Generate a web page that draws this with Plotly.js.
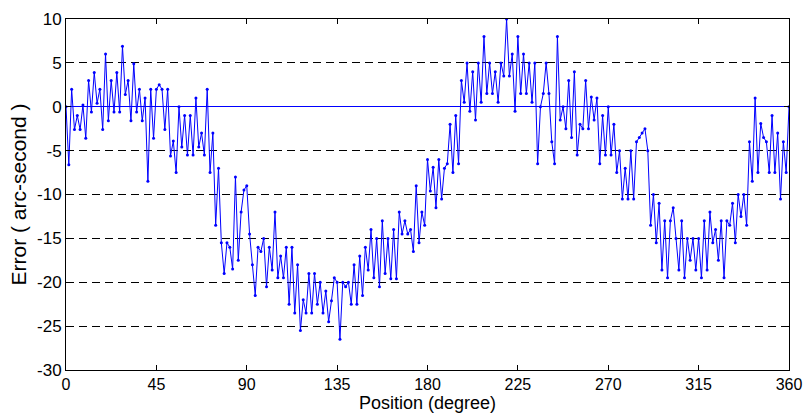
<!DOCTYPE html>
<html>
<head>
<meta charset="utf-8">
<script src="https://cdn.plot.ly/plotly-3.0.1.min.js"></script>
<style>
  html, body { margin: 0; padding: 0; background: #fff; }
  #chart { width: 807px; height: 414px; }
</style>
</head>
<body>
<div id="chart"></div>
<script>
// Measured angular error, sampled uniformly from 0 to 360 degrees (257 samples)
const errors = [
  0, -6.6, 2.0, -2.6, -1.0, -2.6, 0.2, -3.6, 3.0, -0.6,
  3.9, 0.4, 2.0, -2.6, 6.0, -1.6, 3.0, -0.6, 3.9, -0.6,
  6.9, 1.4, 3.0, -1.6, 4.9, -0.6, 2.0, -1.6, 1.0, -8.5,
  2.0, -3.6, 2.0, 2.5, 2.0, -2.6, 2.0, -5.6, -3.9, -7.5,
  0, -4.6, -1.0, -5.5, -1.0, -5.5, 1.0, -4.6, -3.0, -5.5,
  2.0, -7.5, -3.0, -13.5, -7.0, -15.5, -19.0, -15.5, -16.0, -18.5,
  -8.0, -17.5, -12.0, -9.5, -9.0, -14.5, -18.0, -21.5, -16.0, -16.5,
  -15.0, -20.5, -16.0, -18.6, -12.0, -19.5, -17.0, -19.5, -16.0, -22.5,
  -16.0, -23.5, -18.0, -25.5, -22.0, -23.5, -19.0, -23.5, -19.0, -22.5,
  -20.0, -23.5, -21.0, -24.5, -22.1, -19.5, -20.0, -26.5, -20.0, -20.5,
  -20.0, -22.5, -18.0, -22.5, -17.0, -21.5, -16.0, -18.6, -14.0, -19.5,
  -15.0, -20.5, -13.0, -19.0, -15.0, -19.6, -14.0, -19.6, -12.0, -14.5,
  -13.0, -14.5, -14.0, -16.5, -9.0, -15.5, -12.0, -13.5, -6.0, -9.6,
  -6.9, -11.5, -6.0, -10.5, -7.0, -6.5, -2.0, -7.5, -1.0, -6.5,
  3.0, 0.5, 5.0, -0.5, 4.0, -1.5, 5.0, 0.5, 8.0, 1.5,
  5.0, 1.5, 4.0, 0.5, 5.0, 3.5, 10.0, 3.5, 6.0, -0.5,
  8.0, 1.5, 6.0, 1.5, 5.0, 0.5, 5.0, -6.5, 0, 1.5,
  5.0, 1.5, -4.0, -6.5, 8.0, -1.5, 0, -2.5, 3.0, -3.5,
  4.0, -5.5, -2.0, -2.5, 3.0, -2.5, 1.1, -1.5, 1.0, -6.5,
  -1.0, -5.5, 0, -5.5, -2.0, -7.5, -5.0, -10.5, -7.0, -10.5,
  -5.0, -10.5, -4.0, -3.5, -3.0, -2.5, -5.0, -13.5, -10.0, -15.5,
  -11.0, -18.6, -13.0, -19.5, -13.0, -11.5, -15.0, -18.6, -13.0, -19.5,
  -15.0, -17.5, -15.0, -18.6, -15.0, -19.5, -13.0, -18.6, -12.0, -15.5,
  -14.0, -17.5, -13.0, -19.5, -13.0, -13.5, -11.0, -15.5, -10.0, -12.5,
  -10.0, -13.5, -4.0, -8.5, 1.0, -7.5, -1.9, -3.5, -4.0, -7.5,
  -1.0, -7.5, -3.0, -10.5, -4.0, -7.5, 0
];
const positionStart = 0;
const positionEnd = 360;
const xTicks = [0, 45, 90, 135, 180, 225, 270, 315, 360];
const yTicks = [-30, -25, -20, -15, -10, -5, 0, 5, 10];
const xTitle = 'Position (degree)';
const yTitle = 'Error ( arc-second )';

const stepDeg = (positionEnd - positionStart) / (errors.length - 1);
const positions = errors.map((_, i) => positionStart + i * stepDeg);

const font = 'Liberation Sans, Arial, sans-serif';

const trace = {
  x: positions,
  y: errors,
  type: 'scatter',
  mode: 'lines+markers',
  line: { color: 'rgb(0,0,255)', width: 1 },
  marker: { color: 'rgb(0,0,255)', size: 3 },
  hoverinfo: 'x+y'
};

const layout = {
  width: 807,
  height: 414,
  margin: { l: 66, r: 18, t: 19, b: 44, pad: 0 },
  paper_bgcolor: '#ffffff',
  plot_bgcolor: '#ffffff',
  showlegend: false,
  font: { family: font, size: 17, color: '#000' },
  xaxis: {
    range: [0, 360],
    tickmode: 'array',
    tickvals: xTicks,
    ticktext: xTicks.map(String),
    ticks: 'inside',
    ticklen: 5,
    tickcolor: '#000',
    showline: true,
    linecolor: '#000',
    linewidth: 1,
    mirror: 'ticks',
    showgrid: false,
    zeroline: false,
    tickfont: { family: font, size: 16, color: '#000' },
    title: { text: xTitle, font: { family: font, size: 18, color: '#000' }, standoff: 4 }
  },
  yaxis: {
    range: [-30, 10],
    tickmode: 'array',
    tickvals: yTicks,
    ticktext: yTicks.map(String),
    ticks: 'inside',
    ticklen: 5,
    tickcolor: '#000',
    showline: true,
    linecolor: '#000',
    linewidth: 1,
    mirror: 'ticks',
    showgrid: true,
    gridcolor: '#000',
    gridwidth: 1,
    griddash: '8px,5px',
    zeroline: true,
    zerolinecolor: 'rgb(0,0,255)',
    zerolinewidth: 1,
    tickfont: { family: font, size: 17, color: '#000' },
    title: { text: yTitle, font: { family: font, size: 21, color: '#000' }, standoff: 4 }
  }
};

Plotly.newPlot('chart', [trace], layout, { staticPlot: true, displayModeBar: false });
</script>
</body>
</html>
